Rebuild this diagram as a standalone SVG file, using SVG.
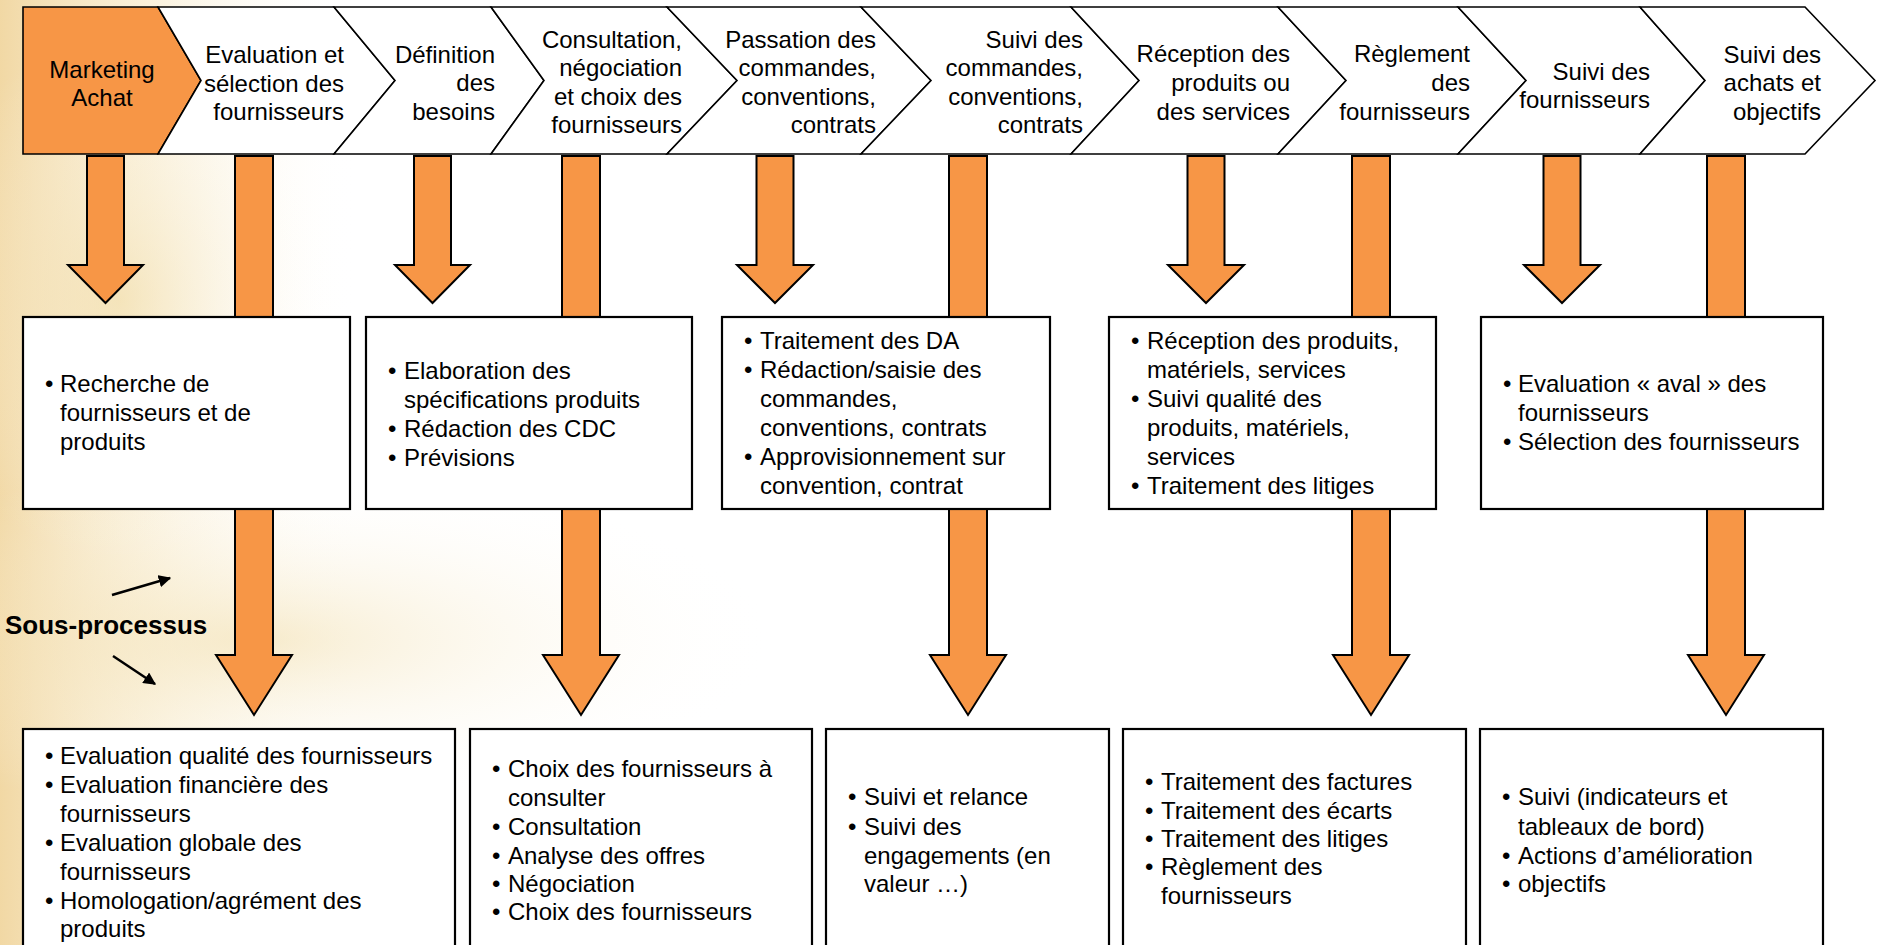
<svg xmlns="http://www.w3.org/2000/svg" width="1878" height="945" viewBox="0 0 1878 945">
<defs>
<linearGradient id="bgL" x1="0" y1="0" x2="1" y2="0">
<stop offset="0" stop-color="#EDCB86" stop-opacity="0.75"/>
<stop offset="0.45" stop-color="#F3DDA8" stop-opacity="0.35"/>
<stop offset="1" stop-color="#FFFFFF" stop-opacity="0"/>
</linearGradient>
<radialGradient id="bgR" cx="0.5" cy="0.5" r="0.5">
<stop offset="0" stop-color="#F1DCA6" stop-opacity="0.55"/>
<stop offset="1" stop-color="#FFFFFF" stop-opacity="0"/>
</radialGradient>
<marker id="ah" viewBox="0 0 10 10" refX="9" refY="5" markerWidth="5" markerHeight="5" orient="auto" markerUnits="strokeWidth">
<path d="M0,0 L10,5 L0,10 Z" fill="#000"/>
</marker>
</defs>
<style>
.chev{fill:#FFFFFF;stroke:#000;stroke-width:1.6;stroke-linejoin:miter}
.chevO{fill:#F79646;stroke:#000;stroke-width:1.6}
.arr{fill:#F79646;stroke:#000;stroke-width:2}
.box{fill:#FFFFFF;stroke:#000;stroke-width:2.2}
text{font-family:"Liberation Sans",Arial,sans-serif;font-size:24px;fill:#000}
.r{text-anchor:end}
.c{text-anchor:middle}
.b{font-weight:bold;font-size:26px}
.ptr{stroke:#000;stroke-width:2.5;fill:none}
</style>
<rect x="0" y="0" width="1878" height="945" fill="#FFFFFF"/>
<g id="background">
<rect x="0" y="0" width="360" height="945" fill="url(#bgL)"/>
<ellipse cx="260" cy="640" rx="520" ry="170" fill="url(#bgR)"/>
<ellipse cx="120" cy="300" rx="220" ry="260" fill="url(#bgR)"/>
</g>

<g id="connectors">
<path class="arr" d="M235,156 H273 V655 H292 L254,715 L216,655 H235 Z"/>
<path class="arr" d="M562,156 H600 V655 H619 L581,715 L543,655 H562 Z"/>
<path class="arr" d="M949,156 H987 V655 H1006 L968,715 L930,655 H949 Z"/>
<path class="arr" d="M1352,156 H1390 V655 H1409 L1371,715 L1333,655 H1352 Z"/>
<path class="arr" d="M1707,156 H1745 V655 H1764 L1726,715 L1688,655 H1707 Z"/>
<path class="arr" d="M87,156 H124 V265 H143 L105.5,303 L68,265 H87 Z"/>
<path class="arr" d="M414,156 H451 V265 H470 L432.5,303 L395,265 H414 Z"/>
<path class="arr" d="M756.5,156 H793.5 V265 H813 L775,303 L737,265 H756.5 Z"/>
<path class="arr" d="M1187.5,156 H1224.5 V265 H1244 L1206,303 L1168,265 H1187.5 Z"/>
<path class="arr" d="M1543.5,156 H1580.5 V265 H1600 L1562,303 L1524,265 H1543.5 Z"/>
<line class="ptr" x1="112" y1="595" x2="170" y2="578" marker-end="url(#ah)"/>
<line class="ptr" x1="113" y1="656" x2="155" y2="684" marker-end="url(#ah)"/>
</g>

<g id="step-marketing">
<path class="chevO" d="M23,7 H158 L201,80.5 L158,154 H23 Z"/>
<text class="c" x="102" y="78">Marketing</text>
<text class="c" x="102" y="106">Achat</text>
</g>
<g id="step-evaluation">
<path class="chev" d="M158,7 H334 L395,80.5 L334,154 H158 L201,80.5 Z"/>
<text class="r" x="344" y="63">Evaluation et</text>
<text class="r" x="344" y="92">sélection des</text>
<text class="r" x="344" y="120">fournisseurs</text>
</g>
<g id="step-definition">
<path class="chev" d="M334,7 H491 L544,80.5 L491,154 H334 L395,80.5 Z"/>
<text class="r" x="495" y="63">Définition</text>
<text class="r" x="495" y="91">des</text>
<text class="r" x="495" y="120">besoins</text>
</g>
<g id="step-consultation">
<path class="chev" d="M491,7 H667 L737,80.5 L667,154 H491 L544,80.5 Z"/>
<text class="r" x="682" y="48">Consultation,</text>
<text class="r" x="682" y="76">négociation</text>
<text class="r" x="682" y="105">et choix des</text>
<text class="r" x="682" y="133">fournisseurs</text>
</g>
<g id="step-passation">
<path class="chev" d="M667,7 H861 L931,80.5 L861,154 H667 L737,80.5 Z"/>
<text class="r" x="876" y="48">Passation des</text>
<text class="r" x="876" y="76">commandes,</text>
<text class="r" x="876" y="105">conventions,</text>
<text class="r" x="876" y="133">contrats</text>
</g>
<g id="step-suivi-commandes">
<path class="chev" d="M861,7 H1071 L1139,80.5 L1071,154 H861 L931,80.5 Z"/>
<text class="r" x="1083" y="48">Suivi des</text>
<text class="r" x="1083" y="76">commandes,</text>
<text class="r" x="1083" y="105">conventions,</text>
<text class="r" x="1083" y="133">contrats</text>
</g>
<g id="step-reception">
<path class="chev" d="M1071,7 H1278 L1346,80.5 L1278,154 H1071 L1139,80.5 Z"/>
<text class="r" x="1290" y="62">Réception des</text>
<text class="r" x="1290" y="91">produits ou</text>
<text class="r" x="1290" y="120">des services</text>
</g>
<g id="step-reglement">
<path class="chev" d="M1278,7 H1458 L1526,80.5 L1458,154 H1278 L1346,80.5 Z"/>
<text class="r" x="1470" y="62">Règlement</text>
<text class="r" x="1470" y="91">des</text>
<text class="r" x="1470" y="120">fournisseurs</text>
</g>
<g id="step-suivi-fournisseurs">
<path class="chev" d="M1458,7 H1640 L1705,80.5 L1640,154 H1458 L1526,80.5 Z"/>
<text class="r" x="1650" y="80">Suivi des</text>
<text class="r" x="1650" y="108">fournisseurs</text>
</g>
<g id="step-suivi-achats">
<path class="chev" d="M1640,7 H1805 L1875,80.5 L1805,154 H1640 L1705,80.5 Z"/>
<text class="r" x="1821" y="63">Suivi des</text>
<text class="r" x="1821" y="91">achats et</text>
<text class="r" x="1821" y="120">objectifs</text>
</g>

<g id="box-recherche">
<rect class="box" x="23" y="317" width="327" height="192"/>
<text x="45" y="392">•</text><text x="60" y="392">Recherche de</text>
<text x="60" y="421">fournisseurs et de</text>
<text x="60" y="450">produits</text>
</g>
<g id="box-specifications">
<rect class="box" x="366" y="317" width="326" height="192"/>
<text x="388" y="379">•</text><text x="404" y="379">Elaboration des</text>
<text x="404" y="408">spécifications produits</text>
<text x="388" y="437">•</text><text x="404" y="437">Rédaction des CDC</text>
<text x="388" y="466">•</text><text x="404" y="466">Prévisions</text>
</g>
<g id="box-traitement-da">
<rect class="box" x="722" y="317" width="328" height="192"/>
<text x="744" y="349">•</text><text x="760" y="349">Traitement des DA</text>
<text x="744" y="378">•</text><text x="760" y="378">Rédaction/saisie des</text>
<text x="760" y="407">commandes,</text>
<text x="760" y="436">conventions, contrats</text>
<text x="744" y="465">•</text><text x="760" y="465">Approvisionnement sur</text>
<text x="760" y="494">convention, contrat</text>
</g>
<g id="box-reception">
<rect class="box" x="1109" y="317" width="327" height="192"/>
<text x="1131" y="349">•</text><text x="1147" y="349">Réception des produits,</text>
<text x="1147" y="378">matériels, services</text>
<text x="1131" y="407">•</text><text x="1147" y="407">Suivi qualité des</text>
<text x="1147" y="436">produits, matériels,</text>
<text x="1147" y="465">services</text>
<text x="1131" y="494">•</text><text x="1147" y="494">Traitement des litiges</text>
</g>
<g id="box-evaluation-aval">
<rect class="box" x="1481" y="317" width="342" height="192"/>
<text x="1503" y="392">•</text><text x="1518" y="392">Evaluation « aval » des</text>
<text x="1518" y="421">fournisseurs</text>
<text x="1503" y="450">•</text><text x="1518" y="450">Sélection des fournisseurs</text>
</g>

<g id="label-sous-processus">
<text class="b" x="5" y="634">Sous-processus</text>
</g>

<g id="sub-evaluation">
<rect class="box" x="23" y="729" width="432" height="240"/>
<text x="45" y="764">•</text><text x="60" y="764">Evaluation qualité des fournisseurs</text>
<text x="45" y="793">•</text><text x="60" y="793">Evaluation financière des</text>
<text x="60" y="822">fournisseurs</text>
<text x="45" y="851">•</text><text x="60" y="851">Evaluation globale des</text>
<text x="60" y="880">fournisseurs</text>
<text x="45" y="909">•</text><text x="60" y="909">Homologation/agrément des</text>
<text x="60" y="937">produits</text>
</g>
<g id="sub-consultation">
<rect class="box" x="470" y="729" width="342" height="240"/>
<text x="492" y="777">•</text><text x="508" y="777">Choix des fournisseurs à</text>
<text x="508" y="806">consulter</text>
<text x="492" y="835">•</text><text x="508" y="835">Consultation</text>
<text x="492" y="864">•</text><text x="508" y="864">Analyse des offres</text>
<text x="492" y="892">•</text><text x="508" y="892">Négociation</text>
<text x="492" y="920">•</text><text x="508" y="920">Choix des fournisseurs</text>
</g>
<g id="sub-suivi">
<rect class="box" x="826" y="729" width="283" height="240"/>
<text x="848" y="805">•</text><text x="864" y="805">Suivi et relance</text>
<text x="848" y="835">•</text><text x="864" y="835">Suivi des</text>
<text x="864" y="864">engagements (en</text>
<text x="864" y="892">valeur …)</text>
</g>
<g id="sub-reglement">
<rect class="box" x="1123" y="729" width="343" height="240"/>
<text x="1145" y="790">•</text><text x="1161" y="790">Traitement des factures</text>
<text x="1145" y="819">•</text><text x="1161" y="819">Traitement des écarts</text>
<text x="1145" y="847">•</text><text x="1161" y="847">Traitement des litiges</text>
<text x="1145" y="875">•</text><text x="1161" y="875">Règlement des</text>
<text x="1161" y="904">fournisseurs</text>
</g>
<g id="sub-suivi-achats">
<rect class="box" x="1480" y="729" width="343" height="240"/>
<text x="1502" y="805">•</text><text x="1518" y="805">Suivi (indicateurs et</text>
<text x="1518" y="835">tableaux de bord)</text>
<text x="1502" y="864">•</text><text x="1518" y="864">Actions d’amélioration</text>
<text x="1502" y="892">•</text><text x="1518" y="892">objectifs</text>
</g>
</svg>
